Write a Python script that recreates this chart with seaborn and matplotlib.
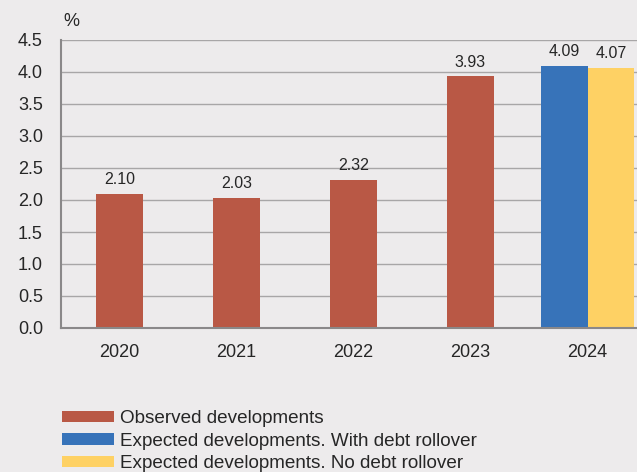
import pandas as pd
import matplotlib
matplotlib.use("Agg")
import matplotlib.pyplot as plt
import matplotlib.patches as mpatches
import seaborn as sns

# data
years = ["2020", "2021", "2022", "2023", "2024"]
observed_years = ["2020", "2021", "2022", "2023"]
observed_values = [2.10, 2.03, 2.32, 3.93]
expected_series = ["Expected developments. With debt rollover",
                   "Expected developments. No debt rollover"]
expected_values = [4.09, 4.07]
legend_labels = ["Observed developments"] + expected_series

RED = "#B95845"
BLUE = "#3773B9"
YELLOW = "#FED164"
BG = "#EDEBEC"
GRID = "#A8A6A7"
SPINE = "#8A8889"


def main():
    sns.set_style("white")
    plt.rcParams["font.family"] = ["Liberation Sans", "DejaVu Sans"]
    plt.rcParams["font.size"] = 13

    obs_df = pd.DataFrame({"year": observed_years, "value": observed_values})
    exp_df = pd.DataFrame({"year": ["2024"] * len(expected_values),
                           "value": expected_values,
                           "series": expected_series})

    fig = plt.figure(figsize=(6.37, 4.72), dpi=100, facecolor=BG)
    ax = fig.add_axes([61 / 637, 1 - 328 / 472, 585 / 637, 288 / 472])
    ax.set_facecolor(BG)

    sns.barplot(data=obs_df, x="year", y="value", order=years, color=RED,
                width=0.4, saturation=1, linewidth=0, ax=ax)
    sns.barplot(data=exp_df, x="year", y="value", hue="series", order=years,
                hue_order=expected_series, palette=[BLUE, YELLOW], dodge=True,
                width=0.8, saturation=1, linewidth=0, legend=False, ax=ax)

    # value labels above bars
    for container in ax.containers:
        ax.bar_label(container, fmt="%.2f", padding=5, fontsize=11.5)

    ax.set_xlim(-0.5, 4.5)
    ax.set_ylim(0, 4.5)
    ax.set_yticks([i * 0.5 for i in range(10)])
    ax.set_yticklabels([f"{i * 0.5:.1f}" for i in range(10)])
    ax.yaxis.grid(True, color=GRID, linewidth=1.0)
    ax.set_axisbelow(True)
    ax.set_xlabel("")
    ax.set_ylabel("")

    for s in ["top", "right"]:
        ax.spines[s].set_visible(False)
    for s in ["left", "bottom"]:
        ax.spines[s].set_color(SPINE)
        ax.spines[s].set_linewidth(1.5)

    ax.tick_params(axis="y", direction="in", length=4, color=GRID,
                   labelsize=13, pad=13)
    ax.tick_params(axis="x", which="major", length=0, labelsize=13, pad=11.5)
    ax.set_xticks([0.5, 1.5, 2.5, 3.5], minor=True)
    ax.tick_params(axis="x", which="minor", direction="in", length=5,
                   color=SPINE, width=1)

    fig.text(63 / 637, 1 - 22 / 472, "%", fontsize=13, va="center", ha="left")

    handles = [mpatches.Patch(color=c, linewidth=0) for c in [RED, BLUE, YELLOW]]
    fig.legend(handles, legend_labels, loc="upper left",
               bbox_to_anchor=(62 / 637, 1 - 410 / 472), frameon=False,
               borderpad=0, borderaxespad=0, handlelength=2.75,
               handleheight=0.55, handletextpad=0.3, labelspacing=0.3,
               fontsize=13.6)

    fig.savefig("out.png", dpi=100, facecolor=BG)


if __name__ == "__main__":
    main()
